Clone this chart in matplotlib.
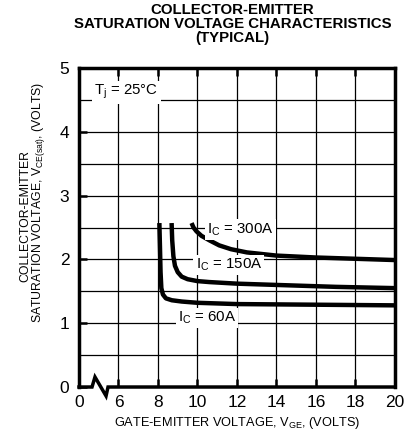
import matplotlib
matplotlib.use("Agg")
import matplotlib.pyplot as plt
import numpy as np

plt.rcParams['font.family'] = ['Liberation Sans', 'DejaVu Sans']
plt.rcParams['mathtext.fontset'] = 'custom'
plt.rcParams['mathtext.rm'] = 'Liberation Sans'
plt.rcParams['mathtext.it'] = 'Liberation Sans:italic'
plt.rcParams['mathtext.bf'] = 'Liberation Sans:bold'

# Data
vge_60 = [8.07, 8.10, 8.13, 8.17, 8.25, 8.4, 8.7, 9.2, 10.0, 12.0, 16.0, 20.0]
vce_60 = [2.57, 2.2, 1.8, 1.55, 1.45, 1.39, 1.36, 1.34, 1.32, 1.30, 1.29, 1.28]
vge_150 = [8.69, 8.72, 8.78, 8.86, 9.0, 9.2, 9.5, 10.0, 10.6, 12.0, 14.0, 17.0, 20.0]
vce_150 = [2.57, 2.3, 2.05, 1.9, 1.80, 1.73, 1.69, 1.66, 1.645, 1.62, 1.60, 1.57, 1.55]
vge_300 = [9.7, 9.8, 9.95, 10.2, 10.6, 11.1, 11.7, 12.5, 14.0, 16.0, 18.0, 20.0]
vce_300 = [2.57, 2.50, 2.44, 2.37, 2.30, 2.22, 2.16, 2.11, 2.06, 2.03, 2.01, 1.99]

x_ticks = [4, 6, 8, 10, 12, 14, 16, 18, 20]
x_tick_labels = ["0", "6", "8", "10", "12", "14", "16", "18", "20"]
y_ticks = [0, 1, 2, 3, 4, 5]

fig = plt.figure(figsize=(4.08, 4.42), dpi=100)
ax = fig.add_axes([0.1936, 0.1244, 0.7745, 0.7217])
ax.set_xlim(4, 20)
ax.set_ylim(0, 5)

# grid
for xv in x_ticks[1:-1]:
    ax.axvline(xv, color='black', lw=0.9, zorder=1)
for yv in np.arange(0.5, 5.0, 0.5):
    ax.axhline(yv, color='black', lw=0.9, zorder=1)

ax.set_xticks(x_ticks)
ax.set_xticklabels(x_tick_labels, fontsize=12.5)
ax.set_yticks(y_ticks)
ax.set_yticklabels([str(v) for v in y_ticks], fontsize=12.5)
ax.tick_params(axis='x', direction='in', top=True, length=6, width=1.8, pad=6)
ax.tick_params(axis='y', direction='in', length=6, width=1.8, pad=7)

for s in ['left', 'right', 'top']:
    ax.spines[s].set_linewidth(2.5)
ax.spines['bottom'].set_visible(False)

# bottom axis with break symbol
bx = [4, 4.66, 4.81, 5.37, 5.47, 20]
by = [0, 0, 0.157, -0.14, 0, 0]
ax.plot(bx, by, color='black', lw=2.5, clip_on=False, zorder=5,
        solid_joinstyle='miter')

# curves
for xs, ys in [(vge_60, vce_60), (vge_150, vce_150), (vge_300, vce_300)]:
    ax.plot(xs, ys, color='black', lw=3.2, zorder=3, solid_capstyle='butt',
            solid_joinstyle='round')

bbox = dict(facecolor='white', edgecolor='none', pad=1.5)
ax.text(4.78, 4.62, r"T$_\mathregular{j}$ = 25°C", fontsize=10.8, va='center', ha='left',
        bbox=bbox, zorder=4)
ax.text(10.5, 2.47, r"I$_\mathregular{C}$ = 300A", fontsize=10.8, va='center', ha='left',
        bbox=bbox, zorder=4)
ax.text(9.9, 1.91, r"I$_\mathregular{C}$ = 150A", fontsize=10.8, va='center', ha='left',
        bbox=bbox, zorder=4)
ax.text(9.0, 1.08, r"I$_\mathregular{C}$ = 60A", fontsize=10.8, va='center', ha='left',
        bbox=bbox, zorder=4)

ax.set_xlabel(r"GATE-EMITTER VOLTAGE, V$_\mathregular{GE}$, (VOLTS)", fontsize=9.2, labelpad=3)
ax.text(-0.171, 0.535, "COLLECTOR-EMITTER", rotation=90, transform=ax.transAxes,
        ha='center', va='center', fontsize=8.8)
ax.text(-0.128, 0.58, r"SATURATION VOLTAGE, V$_\mathregular{CE(sat)}$, (VOLTS)", rotation=90,
        transform=ax.transAxes, ha='center', va='center', fontsize=8.8)

fig.text(0.570, 0.993, "COLLECTOR-EMITTER\nSATURATION VOLTAGE CHARACTERISTICS\n(TYPICAL)",
         ha='center', va='top', fontsize=10.8, fontweight='bold', linespacing=1.0)

fig.savefig("out.png", dpi=100)
